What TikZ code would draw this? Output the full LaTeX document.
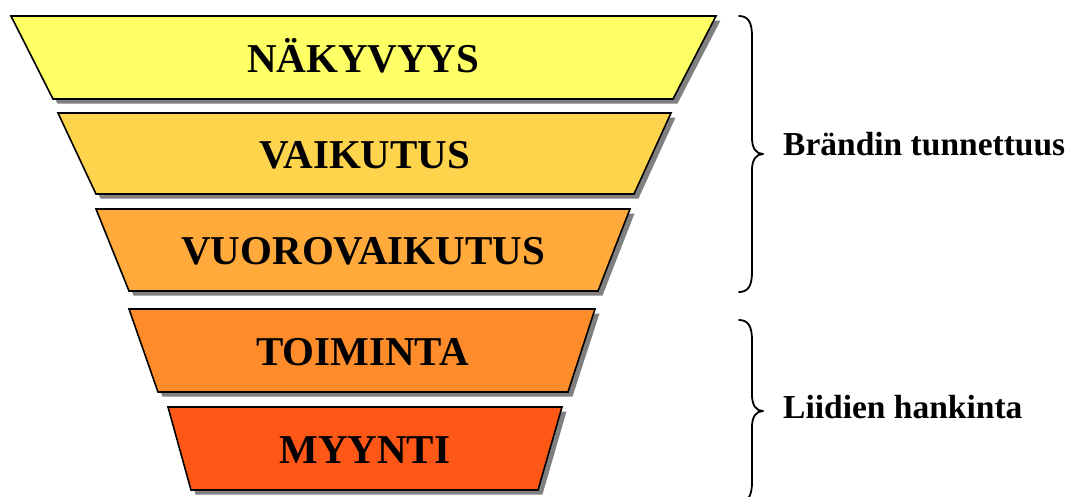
\documentclass[tikz,border=0pt]{standalone}
\usepackage{fontspec}
\setmainfont{Liberation Serif}
\definecolor{c1}{RGB}{255,255,102}
\definecolor{c2}{RGB}{255,212,77}
\definecolor{c3}{RGB}{255,170,58}
\definecolor{c4}{RGB}{255,140,42}
\definecolor{c5}{RGB}{255,88,22}
\definecolor{shade}{RGB}{128,128,128}
\tikzset{
  funnel/.style={draw=black, line width=1.6pt, line join=miter},
  shadowfill/.style={fill=shade},
  stagetext/.style={inner sep=0pt, anchor=base, font=\fontsize{41}{41}\selectfont\bfseries},
  sidelabel/.style={inner sep=0pt, anchor=base west, font=\fontsize{33.5}{33.5}\selectfont\bfseries},
  bracepath/.style={draw=black, line width=1.8pt, line cap=round, line join=round}
}
\newcommand\funnelstage[9]{%
  % #1 name, #2 top y, #3 bottom y, #4 top-left x, #5 top-right x, #6 bottom-left x, #7 bottom-right x, #8 colour, #9 text
  \fill[shadowfill] (#4+4.5,#2+4.5) -- (#5+4.5,#2+4.5) -- (#7+4.5,#3+4.5) -- (#6+4.5,#3+4.5) -- cycle;
  \path[funnel, fill=#8] (#4,#2) -- (#5,#2) -- (#7,#3) -- (#6,#3) -- cycle;
  \node[stagetext] (#1) at ({(#4+#5+#6+#7)/4},{(#2+#3)/2+14.5}) {#9};
}
\begin{document}
\begin{tikzpicture}[x=1pt,y=-1pt]
\clip (0,0) rectangle (1072,496);
\funnelstage{s1}{16}{99}{11}{716}{53}{673}{c1}{NÄKYVYYS}
\funnelstage{s2}{113}{194}{58}{671}{96}{634}{c2}{VAIKUTUS}
\funnelstage{s3}{209}{291}{96}{630}{129}{598}{c3}{VUOROVAIKUTUS}
\funnelstage{s4}{309}{392}{129}{595}{158}{568}{c4}{TOIMINTA}
\funnelstage{s5}{407}{490}{168}{562}{191}{538}{c5}{MYYNTI}
% braces
\coordinate (b1tip) at (763,154);
\coordinate (b2tip) at (763,411);
\path[bracepath] (739,16) .. controls (748,16) and (752,22) .. (752,36) -- (752,138)
  .. controls (752,148) and (756,154) .. (b1tip)
  .. controls (756,154) and (752,160) .. (752,170) -- (752,272)
  .. controls (752,286) and (748,292) .. (739,292);
\path[bracepath] (739,320) .. controls (748,320) and (752,326) .. (752,340) -- (752,395)
  .. controls (752,405) and (756,411) .. (b2tip)
  .. controls (756,411) and (752,417) .. (752,427) -- (752,482)
  .. controls (752,496) and (748,502) .. (739,502);
\node[sidelabel] (brand) at (783,155) {Brändin tunnettuus};
\node[sidelabel] (leads) at (783,418) {Liidien hankinta};
\end{tikzpicture}
\end{document}
